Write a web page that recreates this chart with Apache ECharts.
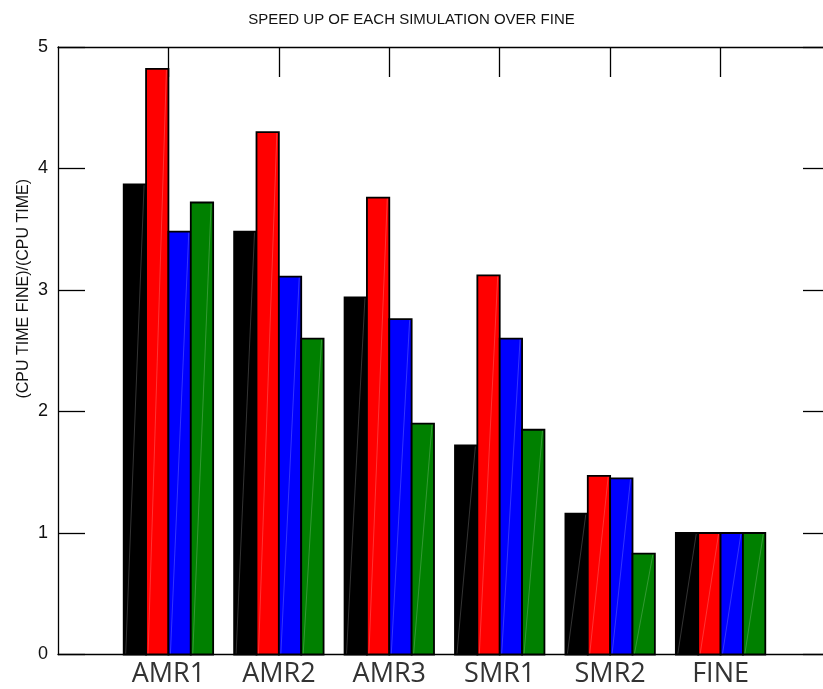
<!DOCTYPE html>
<html>
<head>
<meta charset="utf-8">
<script src="https://cdn.jsdelivr.net/npm/echarts@6/dist/echarts.min.js"></script>
<style>
  html, body { margin: 0; padding: 0; background: #fff; }
  #chart { width: 823px; height: 689px; }
</style>
</head>
<body>
<div id="chart"></div>
<script>
// Simulation runs, one group of bars each
const categories = ['AMR1', 'AMR2', 'AMR3', 'SMR1', 'SMR2', 'FINE'];

// Speed-up values, one array per bar colour within a group
const blackSeries = [3.87, 3.48, 2.94, 1.72, 1.16, 1.00];
const redSeries   = [4.82, 4.30, 3.76, 3.12, 1.47, 1.00];
const blueSeries  = [3.48, 3.11, 2.76, 2.60, 1.45, 1.00];
const greenSeries = [3.72, 2.60, 1.90, 1.85, 0.83, 1.00];

const yTicks = [0, 1, 2, 3, 4, 5];

const seriesList = [
  { data: blackSeries, color: '#000000' },
  { data: redSeries,   color: '#ff0000' },
  { data: blueSeries,  color: '#0000ff' },
  { data: greenSeries, color: '#008000' }
];

const BAR_W = 0.2025;               // bar width in x-axis units
const positions = categories.map((c, i) => i + 1);

function makeRender(k) {
  return function (params, api) {
    const x = api.value(0);
    const v = api.value(1);
    const x0 = x + (k - 2) * BAR_W;
    const p0 = api.coord([x0, 0]);
    const p1 = api.coord([x0 + BAR_W, v]);
    const left = p0[0], right = p1[0], bottom = p0[1], top = p1[1];
    return {
      type: 'group',
      children: [
        {
          type: 'rect',
          shape: { x: left, y: top, width: right - left, height: bottom - top },
          style: { fill: seriesList[k].color, stroke: '#000', lineWidth: 1.8 }
        },
        {
          type: 'line',
          shape: { x1: left + 2, y1: bottom - 1, x2: right - 2, y2: top + 1 },
          style: { stroke: 'rgba(255,255,255,0.25)', lineWidth: 0.8 }
        }
      ]
    };
  };
}

const chart = echarts.init(document.getElementById('chart'), null, { renderer: 'canvas' });

const axisLineStyle = { color: '#000', width: 1.3 };

chart.setOption({
  animation: false,
  backgroundColor: '#fff',
  title: {
    text: 'SPEED UP OF EACH SIMULATION OVER FINE',
    left: 'center',
    top: 7,
    textStyle: { fontFamily: 'Liberation Sans', fontSize: 15, fontWeight: 'normal', color: '#111' }
  },
  grid: { left: 58, top: 47, width: 773, height: 607.5, outerBoundsMode: 'none', containLabel: false },
  xAxis: [
    {
      type: 'value', position: 'bottom', min: 0, max: 7,
      axisLine: { show: true, onZero: false, lineStyle: axisLineStyle },
      axisTick: { show: false },
      splitLine: { show: false },
      axisLabel: {
        customValues: positions,
        formatter: (v) => categories[Math.round(v) - 1] || '',
        fontFamily: 'Open Sans', fontSize: 27, color: '#333', margin: 6
      }
    },
    {
      type: 'value', position: 'top', min: 0, max: 7,
      axisLine: { show: true, onZero: false, lineStyle: axisLineStyle },
      axisTick: { show: true, inside: true, length: 30, customValues: positions, lineStyle: { color: '#000', width: 1.3 } },
      splitLine: { show: false },
      axisLabel: { show: false }
    }
  ],
  yAxis: [
    {
      type: 'value', position: 'left', min: 0, max: 5, interval: 1,
      name: '(CPU TIME FINE)/(CPU TIME)',
      nameLocation: 'middle', nameGap: 26, nameRotate: 90, nameMoveOverlap: false,
      nameTextStyle: { fontFamily: 'Liberation Sans', fontSize: 16, color: '#111', padding: [0, 0, 0, 124] },
      axisLine: { show: true, onZero: false, lineStyle: axisLineStyle },
      axisTick: { show: true, inside: true, length: 27, lineStyle: { color: '#000', width: 1.3 } },
      splitLine: { show: false },
      axisLabel: {
        customValues: yTicks,
        fontFamily: 'Liberation Sans', fontSize: 18, color: '#111', margin: 10,
        padding: [6, 0, 0, 0]
      }
    },
    {
      type: 'value', position: 'right', min: 0, max: 5, interval: 1,
      axisLine: { show: true, onZero: false, lineStyle: axisLineStyle },
      axisTick: { show: true, inside: true, length: 28, lineStyle: { color: '#000', width: 1.3 } },
      splitLine: { show: false },
      axisLabel: { show: false }
    }
  ],
  series: seriesList.map((s, k) => ({
    type: 'custom',
    xAxisIndex: 0,
    yAxisIndex: 0,
    renderItem: makeRender(k),
    encode: { x: 0, y: 1 },
    data: s.data.map((v, i) => [positions[i], v])
  }))
});
</script>
</body>
</html>
